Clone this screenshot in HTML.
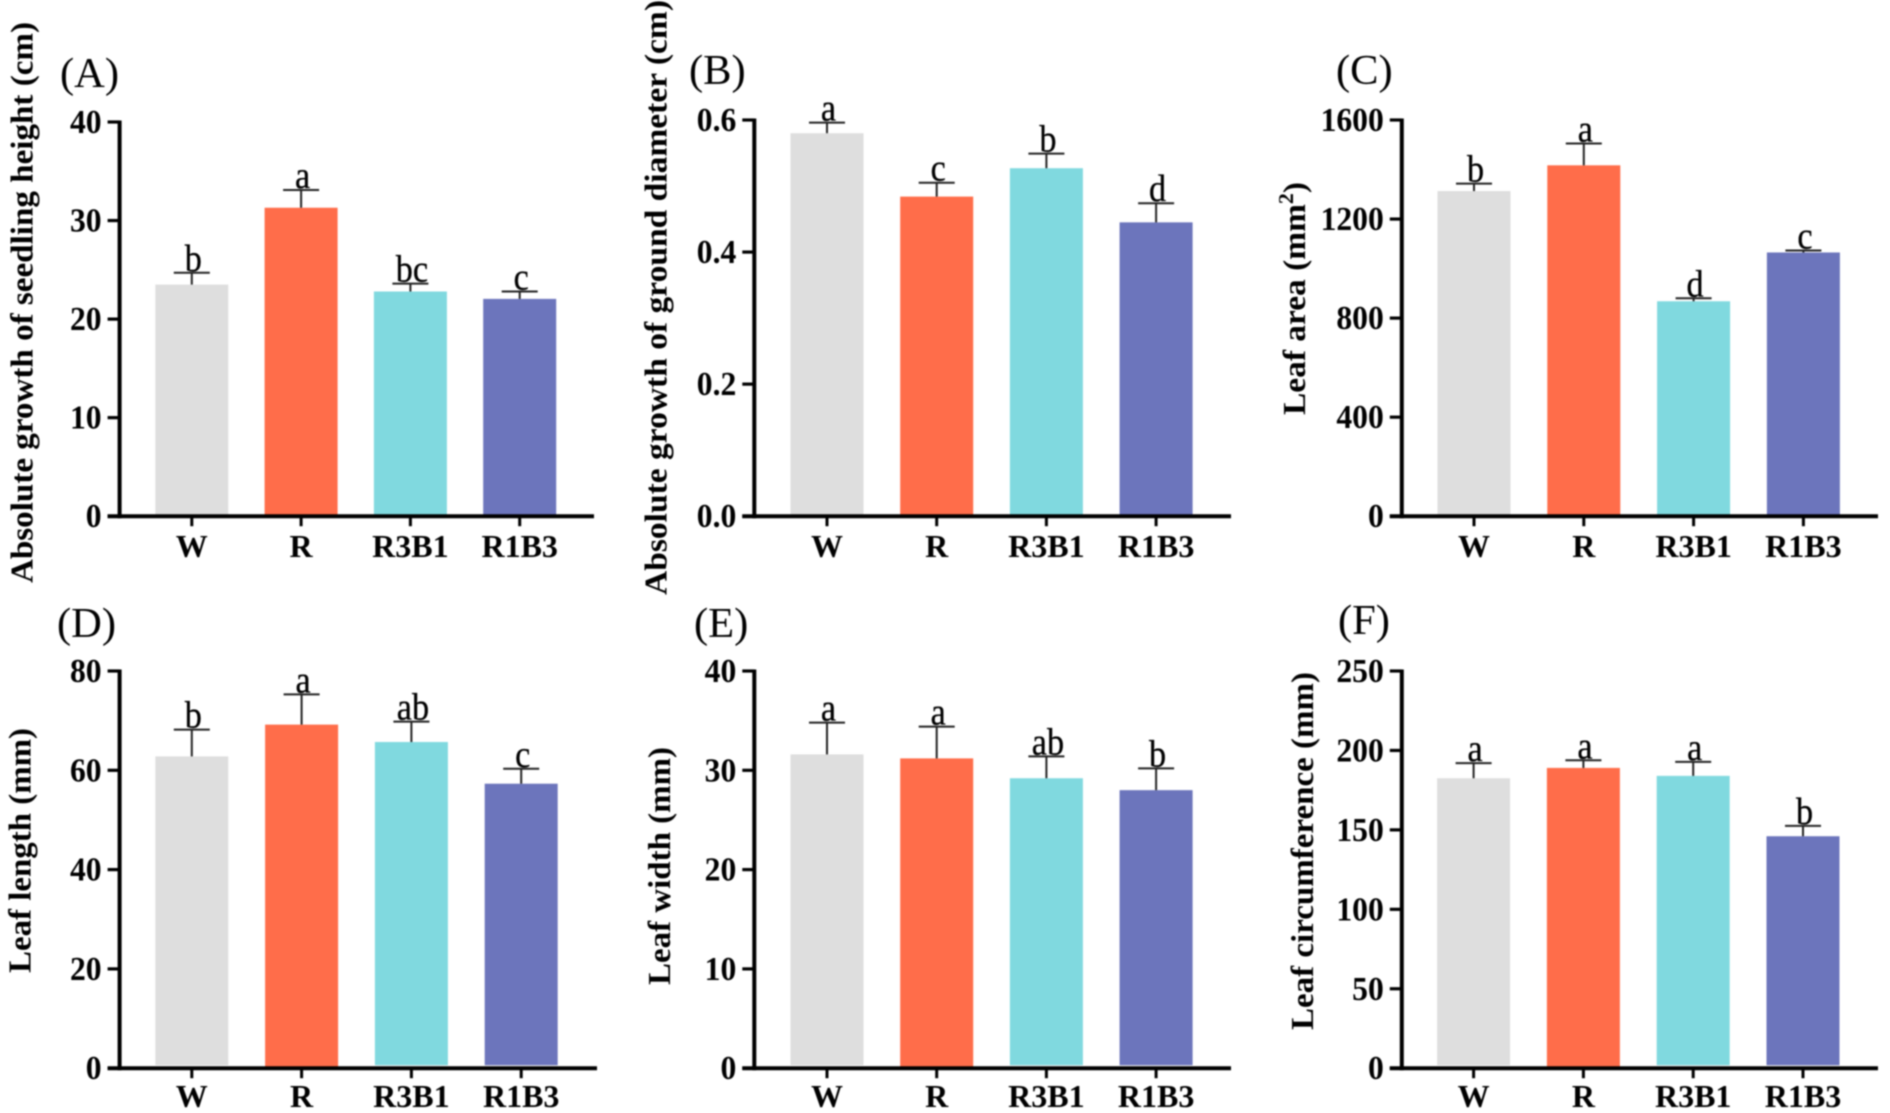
<!DOCTYPE html>
<html lang="en">
<head>
<meta charset="utf-8">
<title>Growth and leaf traits under light treatments</title>
<style>
html,body{margin:0;padding:0;background:#fff;width:1890px;height:1113px;overflow:hidden}
svg{display:block;filter:blur(0.7px)}
text{font-family:"Liberation Serif",serif;fill:#000}
.b{font-weight:bold;fill:#000}
</style>
</head>
<body>
<svg id="figure" xmlns="http://www.w3.org/2000/svg" width="1890" height="1113" viewBox="0 0 1890 1113"></svg>
<script>
const categories = ['W', 'R', 'R3B1', 'R1B3'];
const barColors = ['#DEDEDE', '#FF6D4A', '#80D9DF', '#6C75BC'];

const ticksA = ['0', '10', '20', '30', '40'];
const valuesA = [23.5, 31.3, 22.8, 22.05];
const errorTopsA = [24.7, 33.1, 23.6, 22.8];
const lettersA = ['b', 'a', 'bc', 'c'];

const ticksB = ['0.0', '0.2', '0.4', '0.6'];
const valuesB = [0.58, 0.484, 0.527, 0.445];
const errorTopsB = [0.596, 0.505, 0.549, 0.474];
const lettersB = ['a', 'c', 'b', 'd'];

const ticksC = ['0', '400', '800', '1200', '1600'];
const valuesC = [1313, 1417, 868, 1065];
const errorTopsC = [1343, 1505, 880, 1073];
const lettersC = ['b', 'a', 'd', 'c'];

const ticksD = ['0', '20', '40', '60', '80'];
const valuesD = [62.8, 69.2, 65.7, 57.3];
const errorTopsD = [68.2, 75.3, 69.8, 60.3];
const lettersD = ['b', 'a', 'ab', 'c'];

const ticksE = ['0', '10', '20', '30', '40'];
const valuesE = [31.6, 31.2, 29.2, 28.0];
const errorTopsE = [34.8, 34.4, 31.4, 30.2];
const lettersE = ['a', 'a', 'ab', 'b'];

const ticksF = ['0', '50', '100', '150', '200', '250'];
const valuesF = [182.5, 189, 184, 146];
const errorTopsF = [192, 193.8, 192.8, 152.5];
const lettersF = ['a', 'a', 'a', 'b'];

const NS = 'http://www.w3.org/2000/svg';
const figure = document.getElementById('figure');

function make(tag, attrs, parent, text) {
  const el = document.createElementNS(NS, tag);
  for (const k in attrs) el.setAttribute(k, attrs[k]);
  if (text !== undefined) el.textContent = text;
  parent.appendChild(el);
  return el;
}

function drawPanel(p) {
  const g = make('g', {}, figure);
  
  

  const maxTick = parseFloat(p.ticks[p.ticks.length - 1]);
  const y = v => p.base - (v / maxTick) * (p.base - p.top);
  const x = i => p.axisX + p.first + i * p.step;

  // panel letter
  const tag = make('text', {x: p.tagX, y: p.tagY, 'font-size': 42.5}, g, '(' + p.id + ')');
  
  

  // y axis title
  const t = make('text', {
    class: 'b', 'font-size': 32,
    transform: 'translate(' + p.titleX + ' ' + p.titleBottom + ') rotate(-90)',
    textLength: p.titleLen, lengthAdjust: 'spacingAndGlyphs'
  }, g);
  
  
  t.appendChild(document.createTextNode(p.title));
  if (p.titleSup) {
    make('tspan', {dy: -12, 'font-size': 21}, t, p.titleSup);
    make('tspan', {dy: 12}, t, p.titleEnd);
  }

  // bars
  categories.forEach((c, i) => {
    const lift = p.lifted && i !== 1 ? 3 : 0;
    const bar = make('rect', {
      x: x(i) - 36.5, y: y(p.values[i]), width: 73,
      height: Math.max(0, p.base - lift - y(p.values[i])), fill: barColors[i]
    }, g);
    
    

    const stem = make('line', {
      x1: x(i), x2: x(i), y1: y(p.values[i]), y2: y(p.errors[i]),
      stroke: '#222', 'stroke-width': 2
    }, g);
    
    

    const cap = make('line', {
      x1: x(i) - 18, x2: x(i) + 18, y1: y(p.errors[i]), y2: y(p.errors[i]),
      stroke: '#222', 'stroke-width': 2
    }, g);
    
    

    const sig = make('text', {
      transform: 'translate(' + (x(i) + 1.5) + ' ' + (y(p.errors[i]) - 2) + ') scale(0.9 1)',
      'font-size': 38, 'text-anchor': 'middle', stroke: '#000', 'stroke-width': 0.3
    }, g, p.letters[i]);
    
    

    const tick = make('line', {
      x1: x(i), x2: x(i), y1: p.base, y2: p.base + 10,
      stroke: '#000', 'stroke-width': 3
    }, g);
    
    

    const lab = make('text', {
      class: 'b', x: x(i), y: p.xLabelY, 'font-size': 32, 'text-anchor': 'middle'
    }, g, c);
    
    
  });

  // y ticks
  p.ticks.forEach(label => {
    const ty = y(parseFloat(label));
    const tk = make('line', {
      x1: p.axisX - 12, x2: p.axisX, y1: ty, y2: ty, stroke: '#000', 'stroke-width': 3.2
    }, g);
    
    

    const tl = make('text', {
      class: 'b', transform: 'translate(' + (p.axisX - 18) + ' ' + (ty + 11) + ') scale(0.93 1)',
      'font-size': 34, 'text-anchor': 'end'
    }, g, label);
    
    
  });

  // axes
  const ya = make('line', {
    x1: p.axisX, x2: p.axisX, y1: p.top - 1.5, y2: p.base + 2, stroke: '#000', 'stroke-width': 4
  }, g);
  
  

  const xa = make('line', {
    x1: p.axisX - 12, x2: p.axisEnd, y1: p.base, y2: p.base, stroke: '#000', 'stroke-width': 4
  }, g);
  
  
}

drawPanel({id:'A', ticks:ticksA, values:valuesA, errors:errorTopsA, letters:lettersA,
  axisX:119.6, axisEnd:594, first:72.2, step:109.3, top:122, base:516.2, xLabelY:557,
  tagX:60, tagY:87, title:'Absolute growth of seedling height (cm)', titleX:32.5, titleBottom:583, titleLen:561});
drawPanel({id:'B', ticks:ticksB, values:valuesB, errors:errorTopsB, letters:lettersB,
  axisX:754.3, axisEnd:1231, first:72.7, step:109.7, top:120, base:516.2, xLabelY:557,
  tagX:689, tagY:84, title:'Absolute growth of ground diameter (cm)', titleX:666.5, titleBottom:595, titleLen:595});
drawPanel({id:'C', ticks:ticksC, values:valuesC, errors:errorTopsC, letters:lettersC,
  axisX:1401.8, axisEnd:1878, first:72.2, step:109.8, top:120, base:516.2, xLabelY:557,
  tagX:1336, tagY:84, title:'Leaf area (mm', titleSup:'2', titleEnd:')', titleX:1305, titleBottom:415, titleLen:233});
drawPanel({id:'D', ticks:ticksD, values:valuesD, errors:errorTopsD, letters:lettersD, lifted:true,
  axisX:119.6, axisEnd:597, first:72.2, step:109.8, top:671, base:1068.2, xLabelY:1107,
  tagX:57, tagY:637, title:'Leaf length (mm)', titleX:30.6, titleBottom:973, titleLen:245});
drawPanel({id:'E', ticks:ticksE, values:valuesE, errors:errorTopsE, letters:lettersE, lifted:true,
  axisX:754.3, axisEnd:1231, first:72.7, step:109.7, top:671, base:1068.2, xLabelY:1107,
  tagX:694, tagY:637, title:'Leaf width (mm)', titleX:670, titleBottom:985, titleLen:238});
drawPanel({id:'F', ticks:ticksF, values:valuesF, errors:errorTopsF, letters:lettersF, lifted:true,
  axisX:1401.8, axisEnd:1878, first:71.8, step:109.8, top:671, base:1068.2, xLabelY:1107,
  tagX:1338, tagY:634, title:'Leaf circumference (mm)', titleX:1313, titleBottom:1030, titleLen:358});
</script>
</body>
</html>
